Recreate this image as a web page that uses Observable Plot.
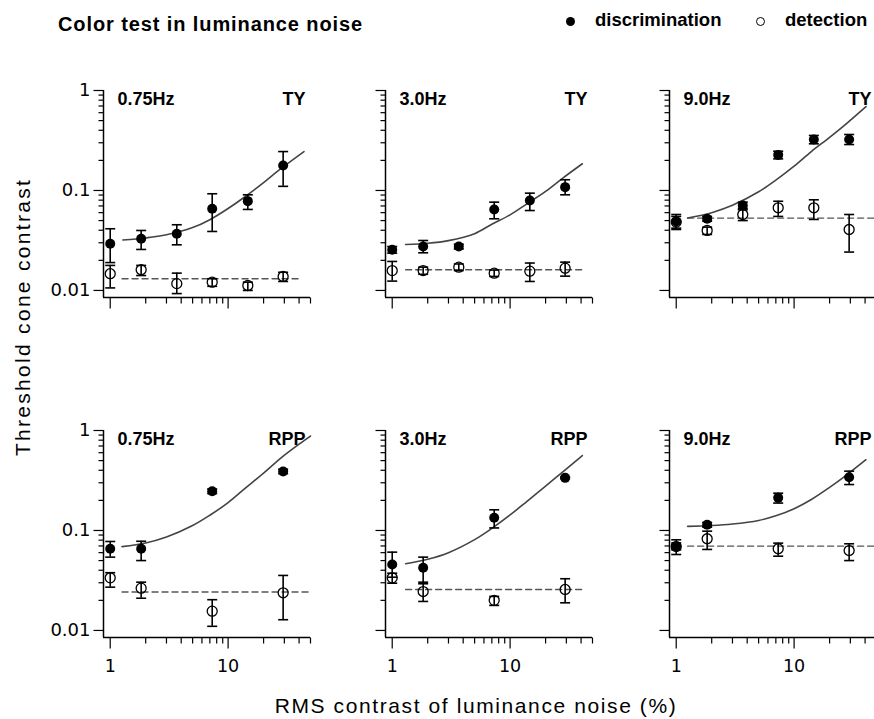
<!DOCTYPE html>
<html>
<head>
<meta charset="utf-8">
<script src="https://cdn.jsdelivr.net/npm/d3@7"></script>
<script src="https://cdn.jsdelivr.net/npm/@observablehq/plot@0.6"></script>
<style>
html,body{margin:0;padding:0;background:#fff;}
body{width:874px;height:719px;overflow:hidden;position:relative;font-family:"Liberation Sans",Arial,Helvetica,sans-serif;color:#000;}
.panel{position:absolute;width:277px;height:277px;}
.panel svg{display:block;overflow:visible;max-width:none !important;}
#title{position:absolute;left:58px;top:14px;font-size:20px;line-height:20px;font-weight:bold;letter-spacing:0.9px;white-space:nowrap;}
.leg{position:absolute;top:11px;font-size:18.5px;line-height:18.5px;font-weight:bold;white-space:nowrap;}
.sym{position:absolute;width:9px;height:9px;border-radius:50%;box-sizing:border-box;}
#ytitle{position:absolute;left:22px;top:317px;transform:translate(-50%,-50%) rotate(-90deg);font-size:21px;line-height:21px;letter-spacing:2.3px;white-space:nowrap;}
#xtitle{position:absolute;left:476px;top:695px;transform:translateX(-50%);font-size:21px;line-height:21px;letter-spacing:1.6px;white-space:nowrap;}
</style>
</head>
<body>
<div id="title"></div>
<div class="sym" style="left:566px;top:17px;background:#000;"></div>
<div class="leg" id="leg1" style="left:595px;"></div>
<div class="sym" style="left:756px;top:17px;border:1.3px solid #000;"></div>
<div class="leg" id="leg2" style="left:785px;"></div>
<div id="ytitle"></div>
<div id="xtitle"></div>
<div id="panels"></div>
<script>
// ---------- text ----------
const titleText = "Color test in luminance noise";
const legendLabels = ["discrimination", "detection"];
const yAxisTitle = "Threshold cone contrast";
const xAxisTitle = "RMS contrast of luminance noise (%)";
const freqLabels = ["0.75Hz", "3.0Hz", "9.0Hz"];
const subjectLabels = ["TY", "RPP"];

// ---------- axes ----------
const xDomain = [0.877, 50];
const yDomain = [0.0085, 1];
const xTicksMajor = [1, 10];
const xTickLabels = ["1", "10"];
const xTicksMinor = [2, 3, 4, 5, 6, 7, 8, 9, 20, 30, 40, 50];
const yTicksMajor = [0.01, 0.1, 1];
const yTickLabels = ["0.01", "0.1", "1"];
const yTicksMinor = [0.02, 0.03, 0.04, 0.05, 0.06, 0.07, 0.08, 0.09, 0.2, 0.3, 0.4, 0.5, 0.6, 0.7, 0.8, 0.9];

// ---------- noise contrasts (%) ----------
const xTY = [1, 1.83, 3.67, 7.33, 14.7, 29.3];
const xRPP = [1, 1.83, 7.33, 29.3];

// ---------- TY 0.75 Hz ----------
const ty075DiscY  = [0.0293, 0.0329, 0.0369, 0.0656, 0.0782, 0.178];
const ty075DiscLo = [0.0190, 0.0257, 0.0286, 0.0389, 0.0646, 0.110];
const ty075DiscHi = [0.0414, 0.0398, 0.0454, 0.0927, 0.0905, 0.245];
const ty075DetY   = [0.0147, 0.0161, 0.0117, 0.0121, 0.0112, 0.0138];
const ty075DetLo  = [0.0106, 0.0141, 0.0093, 0.0110, 0.0100, 0.0123];
const ty075DetHi  = [0.0178, 0.0178, 0.0149, 0.0131, 0.0121, 0.0152];
const ty075FitX   = [1.28, 2, 3, 5, 7, 10, 14, 20, 28, 44];
const ty075FitY   = [0.032, 0.0335, 0.036, 0.0425, 0.051, 0.066, 0.087, 0.12, 0.165, 0.245];

// ---------- TY 3.0 Hz ----------
const ty30DiscY  = [0.0255, 0.0275, 0.0275, 0.0646, 0.0794, 0.108];
const ty30DiscLo = [0.0236, 0.0238, 0.0260, 0.0521, 0.0630, 0.0905];
const ty30DiscHi = [0.0275, 0.0316, 0.0290, 0.0764, 0.0940, 0.128];
const ty30DetY   = [0.0158, 0.0158, 0.0171, 0.0149, 0.0156, 0.0167];
const ty30DetLo  = [0.0124, 0.0145, 0.0158, 0.0138, 0.0123, 0.0139];
const ty30DetHi  = [0.0195, 0.0171, 0.0184, 0.0160, 0.0188, 0.0192];
const ty30FitX   = [1.3, 2, 3, 5, 7, 10, 14, 20, 28, 41];
const ty30FitY   = [0.0288, 0.0296, 0.0315, 0.037, 0.046, 0.057, 0.074, 0.098, 0.133, 0.185];

// ---------- TY 9.0 Hz ----------
const ty90DiscY  = [0.049, 0.0521, 0.0708, 0.227, 0.324, 0.324];
const ty90DiscLo = [0.0407, 0.0493, 0.066, 0.207, 0.293, 0.288];
const ty90DiscHi = [0.0575, 0.0549, 0.0764, 0.247, 0.355, 0.363];
const ty90DetY   = [0.0483, 0.0398, 0.0575, 0.0671, 0.0671, 0.0407];
const ty90DetLo  = [0.042, 0.0363, 0.050, 0.055, 0.0513, 0.0242];
const ty90DetHi  = [0.055, 0.043, 0.064, 0.078, 0.0807, 0.0575];
const ty90FitX   = [1.25, 2, 3, 5, 7, 10, 14, 20, 28, 40.7];
const ty90FitY   = [0.053, 0.06, 0.071, 0.097, 0.127, 0.175, 0.245, 0.34, 0.47, 0.69];

// ---------- RPP 0.75 Hz ----------
const rpp075DiscY  = [0.0656, 0.0656, 0.247, 0.389];
const rpp075DiscLo = [0.0541, 0.050, 0.234, 0.37];
const rpp075DiscHi = [0.0776, 0.078, 0.26, 0.41];
const rpp075DetY   = [0.0336, 0.0265, 0.0156, 0.0238];
const rpp075DetLo  = [0.0271, 0.021, 0.011, 0.0128];
const rpp075DetHi  = [0.0378, 0.0304, 0.0203, 0.0355];
const rpp075FitX   = [1.26, 2, 3, 5, 7, 10, 14, 20, 28, 40, 50];
const rpp075FitY   = [0.069, 0.075, 0.086, 0.112, 0.142, 0.19, 0.265, 0.375, 0.53, 0.73, 0.88];

// ---------- RPP 3.0 Hz ----------
const rpp30DiscY  = [0.0457, 0.0423, 0.134, 0.336];
const rpp30DiscLo = [0.0341, 0.0293, 0.106, 0.330];
const rpp30DiscHi = [0.0607, 0.0541, 0.161, 0.342];
const rpp30DetY   = [0.0336, 0.0245, 0.020, 0.0257];
const rpp30DetLo  = [0.0297, 0.0195, 0.0178, 0.0189];
const rpp30DetHi  = [0.0374, 0.0304, 0.0219, 0.0329];
const rpp30FitX   = [1.3, 2, 3, 5, 7, 10, 14, 20, 28, 41];
const rpp30FitY   = [0.0465, 0.0515, 0.06, 0.081, 0.105, 0.143, 0.197, 0.278, 0.386, 0.562];

// ---------- RPP 9.0 Hz ----------
const rpp90DiscY  = [0.0697, 0.114, 0.212, 0.341];
const rpp90DiscLo = [0.0575, 0.108, 0.188, 0.288];
const rpp90DiscHi = [0.0807, 0.120, 0.236, 0.392];
const rpp90DetY   = [0.069, 0.0826, 0.0656, 0.063];
const rpp90DetLo  = [0.064, 0.0646, 0.0553, 0.050];
const rpp90DetHi  = [0.075, 0.0984, 0.0747, 0.0736];
const rpp90FitX   = [1.25, 2, 3, 5, 7, 10, 14, 20, 28, 40.7];
const rpp90FitY   = [0.11, 0.112, 0.116, 0.126, 0.14, 0.165, 0.204, 0.27, 0.36, 0.51];

// ---------- detection levels (dashed) ----------
const detLevel   = [0.0131, 0.0161, 0.0529, 0.0242, 0.0257, 0.0697];
const detLevelX0 = [1.26, 1.3, 1.25, 1.26, 1.3, 1.25];
const detLevelX1 = [41, 41, 50, 50, 41, 50];

// ---------- layout ----------
const W = 277, H = 277, ML = 60, MR = 10, MT = 30, MB = 40;
const colLeft = [43, 325, 609];
const rowTop = [60, 400];

document.getElementById("title").textContent = titleText;
document.getElementById("leg1").textContent = legendLabels[0];
document.getElementById("leg2").textContent = legendLabels[1];
document.getElementById("ytitle").textContent = yAxisTitle;
document.getElementById("xtitle").textContent = xAxisTitle;

// custom symbols: error-bar cap and axis tick marks
const cap = {draw(ctx, size) { const w = Math.sqrt(size / Math.PI); ctx.moveTo(-w, 0); ctx.lineTo(w, 0); }};
const leftTick = len => ({draw(ctx) { ctx.moveTo(-len, 0); ctx.lineTo(0, 0); }});
const downTick = len => ({draw(ctx) { ctx.moveTo(0, 0); ctx.lineTo(0, len); }});

const panelDefs = [
  {row: 0, col: 0, x: xTY, dY: ty075DiscY, dLo: ty075DiscLo, dHi: ty075DiscHi, eY: ty075DetY, eLo: ty075DetLo, eHi: ty075DetHi, fX: ty075FitX, fY: ty075FitY},
  {row: 0, col: 1, x: xTY, dY: ty30DiscY, dLo: ty30DiscLo, dHi: ty30DiscHi, eY: ty30DetY, eLo: ty30DetLo, eHi: ty30DetHi, fX: ty30FitX, fY: ty30FitY},
  {row: 0, col: 2, x: xTY, dY: ty90DiscY, dLo: ty90DiscLo, dHi: ty90DiscHi, eY: ty90DetY, eLo: ty90DetLo, eHi: ty90DetHi, fX: ty90FitX, fY: ty90FitY},
  {row: 1, col: 0, x: xRPP, dY: rpp075DiscY, dLo: rpp075DiscLo, dHi: rpp075DiscHi, eY: rpp075DetY, eLo: rpp075DetLo, eHi: rpp075DetHi, fX: rpp075FitX, fY: rpp075FitY},
  {row: 1, col: 1, x: xRPP, dY: rpp30DiscY, dLo: rpp30DiscLo, dHi: rpp30DiscHi, eY: rpp30DetY, eLo: rpp30DetLo, eHi: rpp30DetHi, fX: rpp30FitX, fY: rpp30FitY},
  {row: 1, col: 2, x: xRPP, dY: rpp90DiscY, dLo: rpp90DiscLo, dHi: rpp90DiscHi, eY: rpp90DetY, eLo: rpp90DetLo, eHi: rpp90DetHi, fX: rpp90FitX, fY: rpp90FitY}
];

const holder = document.getElementById("panels");
panelDefs.forEach((p, k) => {
  const disc = p.x.map((x, i) => ({x, y: p.dY[i], lo: p.dLo[i], hi: p.dHi[i]}));
  const det = p.x.map((x, i) => ({x, y: p.eY[i], lo: p.eLo[i], hi: p.eHi[i]}));
  const fit = p.fX.map((x, i) => ({x, y: p.fY[i]}));
  const lvl = [{x: detLevelX0[k], y: detLevel[k]}, {x: detLevelX1[k], y: detLevel[k]}];
  const atLeft = () => xDomain[0];
  const atBottom = () => yDomain[0];
  const marks = [
    // axis lines
    Plot.ruleX([xDomain[0]], {stroke: "#000", strokeWidth: 1.5}),
    Plot.ruleY([yDomain[0]], {stroke: "#000", strokeWidth: 1.5}),
    // axis ticks
    Plot.dot(yTicksMinor, {x: atLeft, y: d => d, symbol: leftTick(5), r: 1, stroke: "#000", fill: "none", strokeWidth: 1.2}),
    Plot.dot(yTicksMajor, {x: atLeft, y: d => d, symbol: leftTick(10), r: 1, stroke: "#000", fill: "none", strokeWidth: 1.2}),
    Plot.dot(xTicksMinor, {x: d => d, y: atBottom, symbol: downTick(6), r: 1, stroke: "#000", fill: "none", strokeWidth: 1.2}),
    Plot.dot(xTicksMajor, {x: d => d, y: atBottom, symbol: downTick(11), r: 1, stroke: "#000", fill: "none", strokeWidth: 1.2}),
    // detection level & fitted curve
    Plot.line(lvl, {x: "x", y: "y", stroke: "#555", strokeWidth: 1.4, strokeDasharray: "6,4"}),
    Plot.line(fit, {x: "x", y: "y", stroke: "#444", strokeWidth: 1.6, curve: "catmull-rom"}),
    // error bars
    Plot.ruleX(det, {x: "x", y1: "lo", y2: "hi", stroke: "#000", strokeWidth: 1.6}),
    Plot.dot(det, {x: "x", y: "lo", symbol: cap, r: 5, stroke: "#000", fill: "none", strokeWidth: 1.6}),
    Plot.dot(det, {x: "x", y: "hi", symbol: cap, r: 5, stroke: "#000", fill: "none", strokeWidth: 1.6}),
    Plot.ruleX(disc, {x: "x", y1: "lo", y2: "hi", stroke: "#000", strokeWidth: 1.6}),
    Plot.dot(disc, {x: "x", y: "lo", symbol: cap, r: 5, stroke: "#000", fill: "none", strokeWidth: 1.6}),
    Plot.dot(disc, {x: "x", y: "hi", symbol: cap, r: 5, stroke: "#000", fill: "none", strokeWidth: 1.6}),
    // points
    Plot.dot(det, {x: "x", y: "y", r: 5, stroke: "#000", fill: "none", strokeWidth: 1.3}),
    Plot.dot(disc, {x: "x", y: "y", r: 5, fill: "#000", stroke: "none"}),
    // panel labels
    Plot.text([freqLabels[p.col]], {text: d => d, frameAnchor: "top-left", dx: 14, dy: 2, lineAnchor: "top", textAnchor: "start", fontWeight: "bold", fontSize: 18, fill: "#000"}),
    Plot.text([subjectLabels[p.row]], {text: d => d, frameAnchor: "top-right", dx: -5, dy: 2, lineAnchor: "top", textAnchor: "end", fontWeight: "bold", fontSize: 18, fill: "#000"})
  ];
  if (p.col === 0) {
    marks.push(Plot.text(yTicksMajor, {x: atLeft, y: d => d, text: d => yTickLabels[yTicksMajor.indexOf(d)], textAnchor: "end", lineAnchor: "middle", dx: -13, fontSize: 18, fontFamily: "DejaVu Sans", fill: "#000"}));
  }
  if (p.row === 1) {
    marks.push(Plot.text(xTicksMajor, {x: d => d, y: atBottom, text: d => xTickLabels[xTicksMajor.indexOf(d)], textAnchor: "middle", lineAnchor: "top", dy: 22, fontSize: 17.5, fontFamily: "DejaVu Sans", fill: "#000"}));
  }
  const svg = Plot.plot({
    width: W, height: H, marginLeft: ML, marginRight: MR, marginTop: MT, marginBottom: MB,
    x: {type: "log", domain: xDomain, axis: null},
    y: {type: "log", domain: yDomain, axis: null},
    style: {fontFamily: "Liberation Sans, Arial, sans-serif", fontSize: "16px", color: "#000", background: "transparent", overflow: "visible", maxWidth: "none"},
    marks
  });
  const div = document.createElement("div");
  div.className = "panel";
  div.style.left = colLeft[p.col] + "px";
  div.style.top = rowTop[p.row] + "px";
  div.appendChild(svg);
  holder.appendChild(div);
});
</script>
</body>
</html>
